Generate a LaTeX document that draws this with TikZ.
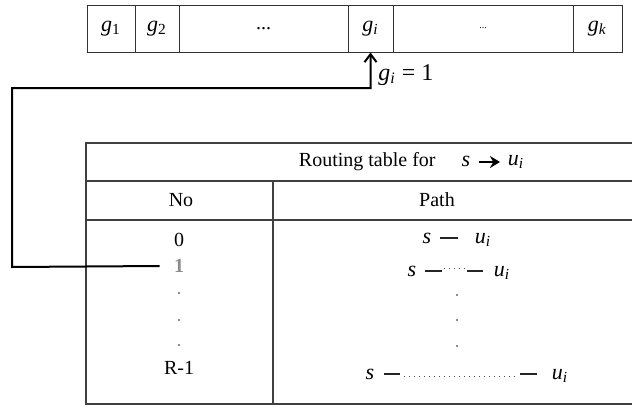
\documentclass[tikz,border=0pt]{standalone}
\usepackage{fontspec}
\setmainfont{Liberation Serif}
\usetikzlibrary{arrows.meta}
\newcommand\gsub[1]{\textit{g}\textsubscript{#1}}
\newcommand\uisub{\textit{u}\textsubscript{\textit{i}}}
\begin{document}
\begin{tikzpicture}[x=0.5pt,y=-0.5pt,
  every node/.style={font=\fontsize{10}{12}\selectfont, inner sep=1pt},
  sym/.style={font=\fontsize{11}{12}\selectfont},
  cell/.style={draw=black!80, line width=0.5pt, minimum height=23.5pt, inner sep=0pt},
  grid/.style={draw=black!75, line width=0.6pt},
  link/.style={line width=1pt, black},
  pdash/.style={line width=1.2pt, black!85},
  pdots/.style={line width=0.5pt, dotted, black!70},
  vdot/.style={circle, fill=black!60, inner sep=0pt, minimum size=1.2pt}]
\useasboundingbox[fill=white] (0,0) rectangle (632,407);

% bit vector g_1 ... g_k
\node[cell, sym, minimum width=24pt]   (g1)  at (111,28.5)   {\gsub{1}};
\node[cell, sym, minimum width=22pt]   (g2)  at (157,28.5)   {\gsub{2}};
\node[cell, minimum width=84.5pt]      (gd1) at (263.5,28.5) {...};
\node[cell, sym, minimum width=22.5pt] (gi)  at (370.5,28.5) {\gsub{\textit{i}}};
\node[cell, minimum width=90pt]        (gd2) at (483,28.5)   {\tiny...};
\node[cell, sym, minimum width=24.5pt] (gk)  at (597.5,28.5) {\gsub{\textit{k}}};
\node[anchor=west] (glab) at (376,75) {\fontsize{12}{14}\selectfont\textit{g}\textsubscript{\textit{i}} = 1};

% routing table frame (runs off to the right)
\draw[grid] (632,143) -- (86,143) -- (86,404) -- (632,404);
\draw[grid] (86,181) -- (632,181);
\draw[grid] (86,220) -- (632,220);
\draw[grid] (273,181) -- (273,404);

\node[anchor=east] (title) at (438,162) {Routing table for};
\node[sym] (ts) at (466,161) {\textit{s}};
\node[sym] (tu) at (516,162) {\uisub};
\coordinate (ta) at (479,162);
\coordinate (tb) at (500,162);
\draw[line width=1.1pt, -{Stealth[length=5pt,width=6pt]}] (ta) -- (tb);

\node (hno)   at (181,200) {No};
\node (hpath) at (437,200) {Path};

% column "No"
\node (n0) at (179,240) {0};
\node[text=black!45] (n1) at (179,266) {\textbf{1}};
\node[vdot] (nd1) at (179,293) {};
\node[vdot] (nd2) at (179,320) {};
\node[vdot] (nd3) at (179,345) {};
\node (nr) at (179,368) {R-1};

% column "Path"
\node[sym] (s0) at (427,238) {\textit{s}};
\node[sym] (u0) at (483,240) {\uisub};
\draw[pdash] (440,238) -- (458,238);

\node[sym] (s1) at (412,271) {\textit{s}};
\node[sym] (u1) at (502,273) {\uisub};
\draw[pdash] (425,271) -- (442,271);
\draw[pdots] (444,268) -- (465,268);
\draw[pdash] (467,271) -- (483,271);

\node[vdot] (pd1) at (457,295) {};
\node[vdot] (pd2) at (457,320) {};
\node[vdot] (pd3) at (457,346) {};

\node[sym] (s2) at (370,374) {\textit{s}};
\node[sym] (u2) at (560,376) {\uisub};
\draw[pdash] (384,374) -- (400,374);
\draw[pdots] (404,376) -- (516,376);
\draw[pdash] (520,374) -- (537,374);

% link from entry 1 up to bit g_i
\coordinate (c1) at (12,267);
\coordinate (c2) at (12,88);
\draw[link, -{Straight Barb[length=4pt,width=6pt]}]
  (n1.west) ++(-6pt,0) -- (c1) -- (c2) -| (gi.south);
\end{tikzpicture}
\end{document}
